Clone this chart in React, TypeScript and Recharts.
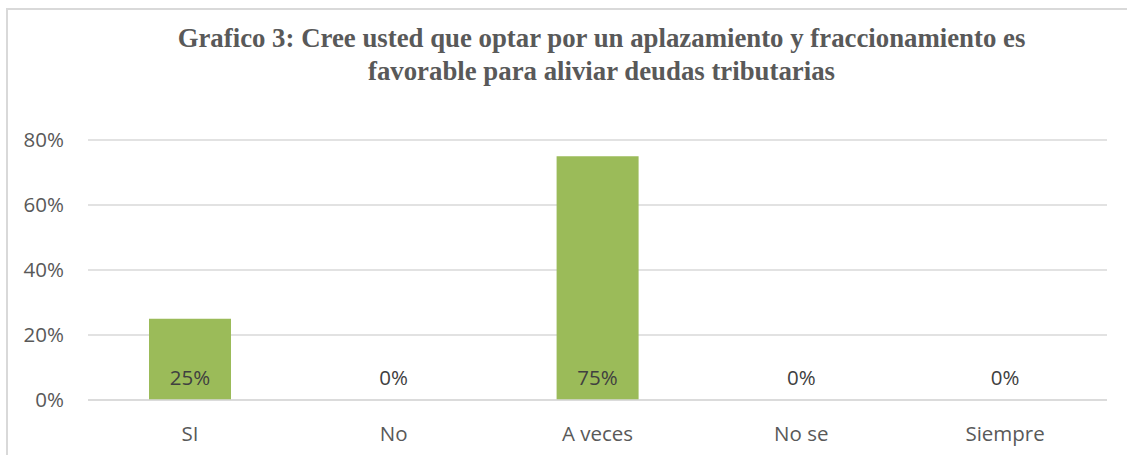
import React from 'react'
import { BarChart, Bar, XAxis, YAxis, CartesianGrid } from 'recharts'

// Datos del gráfico
const categorias = ['SI', 'No', 'A veces', 'No se', 'Siempre']
const porcentajes = [0.25, 0, 0.75, 0, 0]
const ticksY = [0, 0.2, 0.4, 0.6, 0.8]

const data = categorias.map((c, i) => ({ name: c, value: porcentajes[i] }))

const FONT = "'Open Sans', Lato, sans-serif"
const GRIS = '#595959'
const LINEA = '#d9d9d9'

const pct = (v: number) => `${Math.round(v * 100)}%`

// tick del eje X: categoría y, encima, la etiqueta de valor (en la base de la barra)
const TickCategoria = (props: any) => {
  const { x, y, payload, index } = props
  return (
    <g>
      <text x={x} y={y - 25} textAnchor="middle" dominantBaseline="central" fontFamily={FONT} fontSize={20.5} fill="#404040">
        {pct(porcentajes[index])}
      </text>
      <text x={x} y={y + 31} textAnchor="middle" dominantBaseline="central" fontFamily={FONT} fontSize={20.5} fill={GRIS}>
        {payload.value}
      </text>
    </g>
  )
}

export default function App() {
  return (
    <div style={{ position: 'absolute', left: 0, top: 0, width: 1127, height: 455, background: '#fff', overflow: 'hidden' }}>
      {/* borde del área del gráfico */}
      <div
        style={{
          position: 'absolute',
          left: 6,
          top: 8,
          width: 1140,
          height: 470,
          borderLeft: `2px solid ${LINEA}`,
          borderTop: `2px solid ${LINEA}`,
        }}
      />
      <div
        style={{
          position: 'absolute',
          left: 0,
          top: 22,
          width: 1203,
          textAlign: 'center',
          fontFamily: "'Liberation Serif', 'Times New Roman', serif",
          fontWeight: 'bold',
          fontSize: 26.8,
          lineHeight: '33px',
          color: GRIS,
        }}
      >
        Grafico 3: Cree usted que optar por un aplazamiento y fraccionamiento es
        <br />
        favorable para aliviar deudas tributarias
      </div>
      <div style={{ position: 'absolute', left: 0, top: 0 }}>
        <BarChart width={1127} height={455} data={data} margin={{ top: 140, right: 20, bottom: 0, left: 8 }}>
          <CartesianGrid horizontal vertical={false} stroke={LINEA} strokeWidth={1.5} />
          <XAxis
            dataKey="name"
            axisLine={{ stroke: LINEA, strokeWidth: 1.5 }}
            tickLine={false}
            tickSize={0}
            height={55}
            tick={<TickCategoria />}
          />
          <YAxis
            domain={[0, 0.8]}
            ticks={ticksY}
            tickFormatter={pct}
            axisLine={false}
            tickLine={false}
            tickSize={0}
            tickMargin={24}
            width={80}
            tick={{ fill: GRIS, fontSize: 20.5, fontFamily: FONT }}
          />
          <Bar dataKey="value" fill="#9bbb59" barSize={82} isAnimationActive={false} />
        </BarChart>
      </div>
    </div>
  )
}
